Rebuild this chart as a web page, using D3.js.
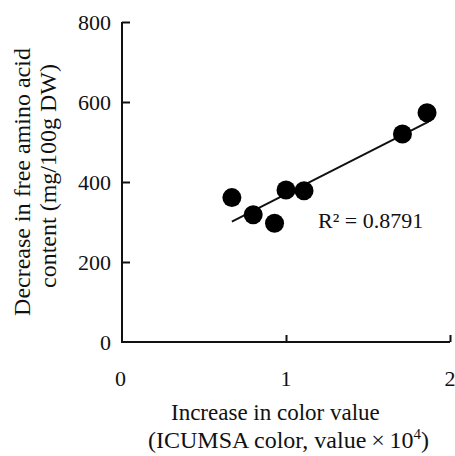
<!DOCTYPE html>
<html>
<head>
<meta charset="utf-8">
<script src="https://cdn.jsdelivr.net/npm/d3@7"></script>
<style>
  body { margin: 0; background: #fff; }
  text { font-family: "Liberation Serif", "Times New Roman", serif; fill: #111; }
</style>
</head>
<body>
<svg id="chart" width="455" height="456"></svg>
<script>
// data
const colorIncrease = [0.67, 0.80, 0.93, 1.00, 1.11, 1.71, 1.86];
const aminoDecrease = [361, 318, 297, 380, 378, 520, 573];
// fitted line end points, as drawn
const fitX = [0.67, 1.87];
const fitY = [301, 551];
const xTicks = [0, 1, 2];
const yTicks = [0, 200, 400, 600, 800];
const r2Label = "R\u00b2 = 0.8791";

const svg = d3.select("#chart");

const x = d3.scaleLinear().domain([0, 2]).range([122, 450]);
const y = d3.scaleLinear().domain([0, 800]).range([342, 22]);

//axes, ticks pointing inward
const xAxis = d3.axisTop(x).tickValues([1, 2]).tickSize(7).tickFormat("");
const yAxis = d3.axisRight(y).tickValues(yTicks.slice(1)).tickSize(8).tickFormat("");

svg.append("g")
    .attr("transform", `translate(0,${y(0)})`)
    .call(xAxis)
    .call(g => g.select(".domain").remove());

svg.append("g")
    .attr("transform", `translate(${x(0)},0)`)
    .call(yAxis)
    .call(g => g.select(".domain").remove());

svg.selectAll(".tick line").attr("stroke", "#111").attr("stroke-width", 2);

// axis lines
svg.append("path")
    .attr("d", `M${x(0)},${y(800)}V${y(0)}H${x(2)}`)
    .attr("fill", "none")
    .attr("stroke", "#111")
    .attr("stroke-width", 2);

// tick labels
svg.selectAll(".ylab")
    .data(yTicks)
    .enter()
    .append("text")
    .attr("class", "ylab")
    .attr("x", 111)
    .attr("y", d => y(d))
    .attr("dy", "0.35em")
    .attr("text-anchor", "end")
    .style("font-size", "22px")
    .text(d => d);

svg.selectAll(".xlab")
    .data(xTicks)
    .enter()
    .append("text")
    .attr("class", "xlab")
    .attr("x", d => x(d) - (d === 0 ? 1.5 : 0))
    .attr("y", 386)
    .attr("text-anchor", "middle")
    .style("font-size", "22px")
    .text(d => d);

// trend line
svg.append("line")
    .attr("x1", x(fitX[0])).attr("y1", y(fitY[0]))
    .attr("x2", x(fitX[1])).attr("y2", y(fitY[1]))
    .attr("stroke", "#111")
    .attr("stroke-width", 2);

// points
svg.selectAll("circle")
    .data(colorIncrease)
    .enter()
    .append("circle")
    .attr("cx", d => x(d))
    .attr("cy", (d, i) => y(aminoDecrease[i]))
    .attr("r", 9.5)
    .attr("fill", "#000");

svg.append("text")
    .attr("x", 318)
    .attr("y", 228)
    .style("font-size", "22px")
    .text(r2Label);

// x title
svg.append("text")
    .attr("x", 171)
    .attr("y", 420)
    .style("font-size", "23px")
    .text("Increase in color value");

const xt2 = svg.append("text")
    .attr("x", 148)
    .attr("y", 448)
    .style("font-size", "24px");
xt2.append("tspan").text("(ICUMSA color, value\u2009\u00d7\u200910");
xt2.append("tspan").attr("dy", -9).style("font-size", "15px").text("4");
xt2.append("tspan").attr("dy", 9).text(")");

// y title, two rotated lines
const yTitle = ["Decrease in free amino acid", "content (mg/100g DW)"];
svg.selectAll(".ytitle")
    .data(yTitle)
    .enter()
    .append("text")
    .attr("class", "ytitle")
    .attr("transform", (d, i) => `translate(${i === 0 ? 30 : 56},${i === 0 ? 182 : 176}) rotate(-90)`)
    .attr("text-anchor", "middle")
    .style("font-size", "24px")
    .text(d => d);
</script>
</body>
</html>
